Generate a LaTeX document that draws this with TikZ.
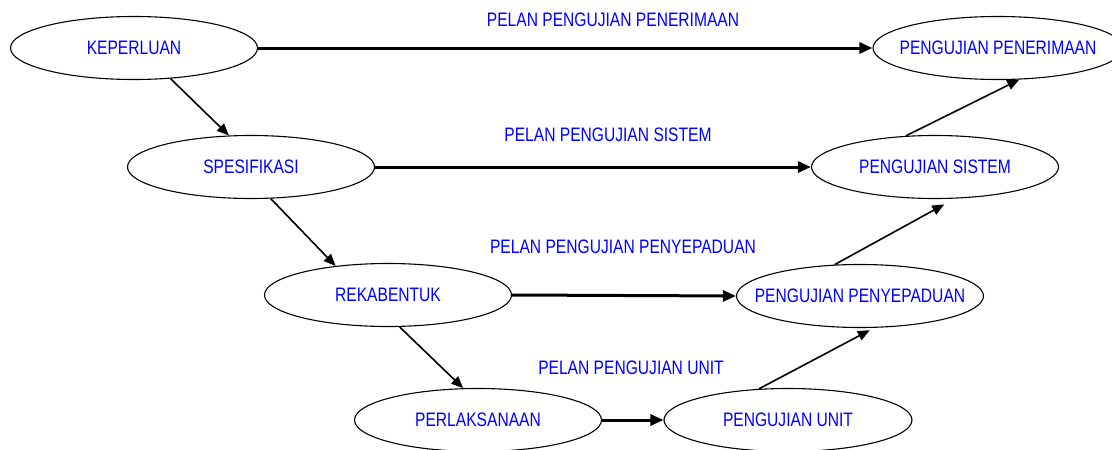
\documentclass[tikz,border=0pt]{standalone}
\usepackage{fontspec}
\setmainfont{Liberation Sans}[FakeStretch=0.8]
\usetikzlibrary{shapes.geometric,arrows.meta}
\newcommand\ctext[1]{\makebox[0pt]{#1}}
\begin{document}
\begin{tikzpicture}[x=1pt,y=-1pt,
  ell/.style={ellipse,draw=black,line width=1.1pt,minimum width=247pt,minimum height=63pt,inner sep=0pt,
    text=blue,font=\fontsize{19.5}{20}\selectfont},
  lbl/.style={text=blue,font=\fontsize{19.5}{20}\selectfont,inner sep=0pt},
  flow/.style={line width=3pt,-{Triangle[length=13pt,width=11pt]}},
  step down/.style={line width=1.6pt,-{Triangle[length=12pt,width=10pt]}}]
\useasboundingbox (0,0) rectangle (1112,450);
% left branch
\node[ell] (kep) at (134,48) {\ctext{KEPERLUAN}};
\node[ell] (spe) at (251,167) {\ctext{SPESIFIKASI}};
\node[ell] (rek) at (388,295) {\ctext{REKABENTUK}};
\node[ell] (per) at (478,420) {\ctext{PERLAKSANAAN}};
% right branch
\node[ell,minimum width=250pt] (pnr) at (998,48) {\ctext{PENGUJIAN PENERIMAAN}};
\node[ell] (sis) at (935,167) {\ctext{PENGUJIAN SISTEM}};
\node[ell] (pny) at (860,296) {\ctext{PENGUJIAN PENYEPADUAN}};
\node[ell,minimum width=248pt] (uni) at (788,420) {\ctext{PENGUJIAN UNIT}};
% plan labels
\node[lbl] (l1) at (613,20) {PELAN PENGUJIAN PENERIMAAN};
\node[lbl] (l2) at (608,135) {PELAN PENGUJIAN SISTEM};
\node[lbl] (l3) at (623,247) {PELAN PENGUJIAN PENYEPADUAN};
\node[lbl] (l4) at (631,368) {PELAN PENGUJIAN UNIT};
% test plans
\draw[flow] (kep.east) -- (pnr.west);
\draw[flow] (spe.east) -- (sis.west);
\draw[flow] (rek.east) -- (pny.west);
\draw[flow] (per.east) -- (uni.west);
% development steps
\draw[step down] (kep.-40) -- (spe.125);
\draw[step down] (spe.-58) -- (rek.151);
\draw[step down] (rek.-70) -- (per.115);
% integration of tests
\draw[step down,shorten >=5pt] (uni.133) -- (pny.-66);
\draw[step down,shorten >=12pt] (pny.129) -- (sis.-58);
\draw[step down] (sis.133) -- (pnr.-56);
\end{tikzpicture}
\end{document}
